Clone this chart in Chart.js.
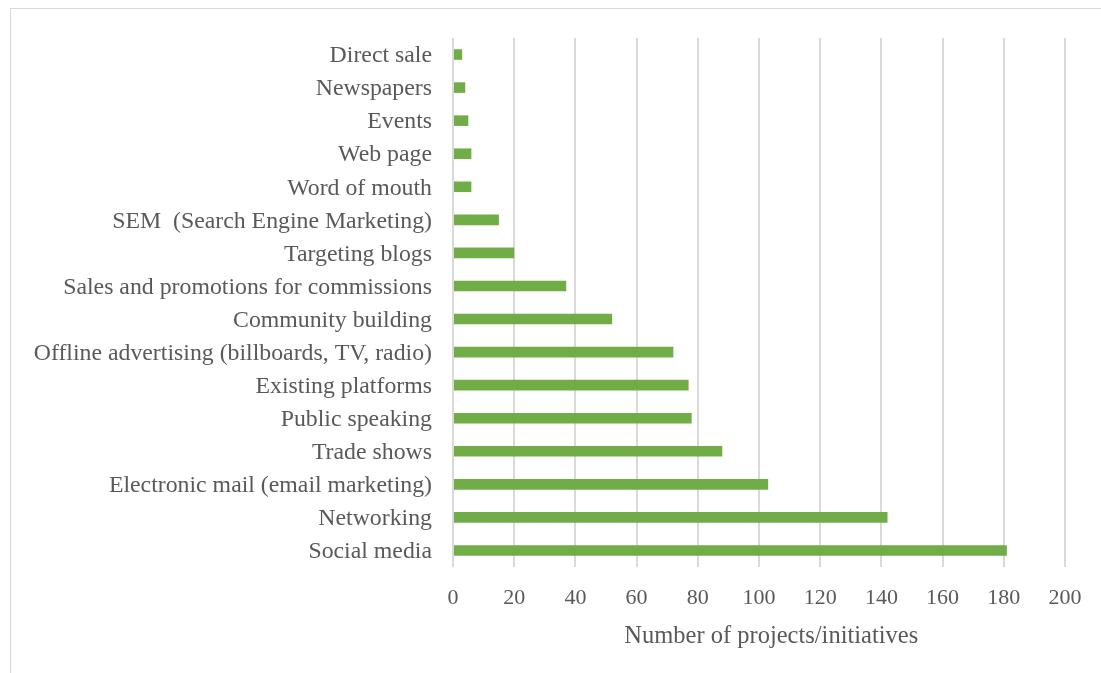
<!DOCTYPE html>
<html>
<head>
<meta charset="utf-8">
<title>Promotion channels</title>
<script src="https://cdn.jsdelivr.net/npm/chart.js@4/dist/chart.umd.min.js"></script>
<style>
  html, body { margin: 0; padding: 0; background: #fff; overflow: hidden; }
  #frame {
    position: absolute; left: 10px; top: 8px; width: 1200px; height: 800px;
    border-left: 1.5px solid #d9d9d9; border-top: 1.5px solid #d9d9d9;
  }
  #wrap { position: absolute; left: 0; top: 0; width: 1101px; height: 673px; }
</style>
</head>
<body>
<div id="frame"></div>
<div id="wrap"><canvas id="chart"></canvas></div>
<script>
// Canales usados para dar a conocer los proyectos (de arriba a abajo)
const channels = [
  'Direct sale',
  'Newspapers',
  'Events',
  'Web page',
  'Word of mouth',
  'SEM  (Search Engine Marketing)',
  'Targeting blogs',
  'Sales and promotions for commissions',
  'Community building',
  'Offline advertising (billboards, TV, radio)',
  'Existing platforms',
  'Public speaking',
  'Trade shows',
  'Electronic mail (email marketing)',
  'Networking',
  'Social media'
];
const projectCounts = [3, 4, 5, 6, 6, 15, 20, 37, 52, 72, 77, 78, 88, 103, 142, 181];
const xTicks = [0, 20, 40, 60, 80, 100, 120, 140, 160, 180, 200];
const xTitle = 'Number of projects/initiatives';

const serif = "'Liberation Serif', 'Times New Roman', serif";
const grey = '#595959';

new Chart(document.getElementById('chart'), {
  type: 'bar',
  data: {
    labels: channels,
    datasets: [{
      data: projectCounts,
      backgroundColor: '#70ad47',
      borderWidth: 0,
      barPercentage: 0.32,
      categoryPercentage: 1
    }]
  },
  options: {
    indexAxis: 'y',
    responsive: true,
    maintainAspectRatio: false,
    animation: false,
    layout: { padding: { top: 38, right: 36, bottom: 0, left: 0 } },
    plugins: { legend: { display: false }, tooltip: { enabled: false } },
    scales: {
      x: {
        min: xTicks[0],
        max: xTicks[xTicks.length - 1],
        afterBuildTicks: s => { s.ticks = xTicks.map(v => ({ value: v })); },
        afterFit: s => { s.height = 106; },
        grid: { color: '#d9d9d9', lineWidth: 2, drawTicks: false },
        border: { display: false },
        ticks: { color: grey, padding: 18, font: { family: serif, size: 22 } },
        title: {
          display: true,
          // los espacios iniciales corren el título un poco a la derecha
          text: '    ' + xTitle,
          color: grey,
          font: { family: serif, size: 24.5 },
          padding: { top: 0, bottom: 22 }
        }
      },
      y: {
        afterFit: s => { s.width = 453; },
        grid: { display: false, drawTicks: false },
        border: { display: false },
        ticks: {
          color: grey, padding: 21, labelOffset: 1.5,
          font: { family: serif, size: 23.8 }, autoSkip: false
        }
      }
    }
  }
});
</script>
</body>
</html>
